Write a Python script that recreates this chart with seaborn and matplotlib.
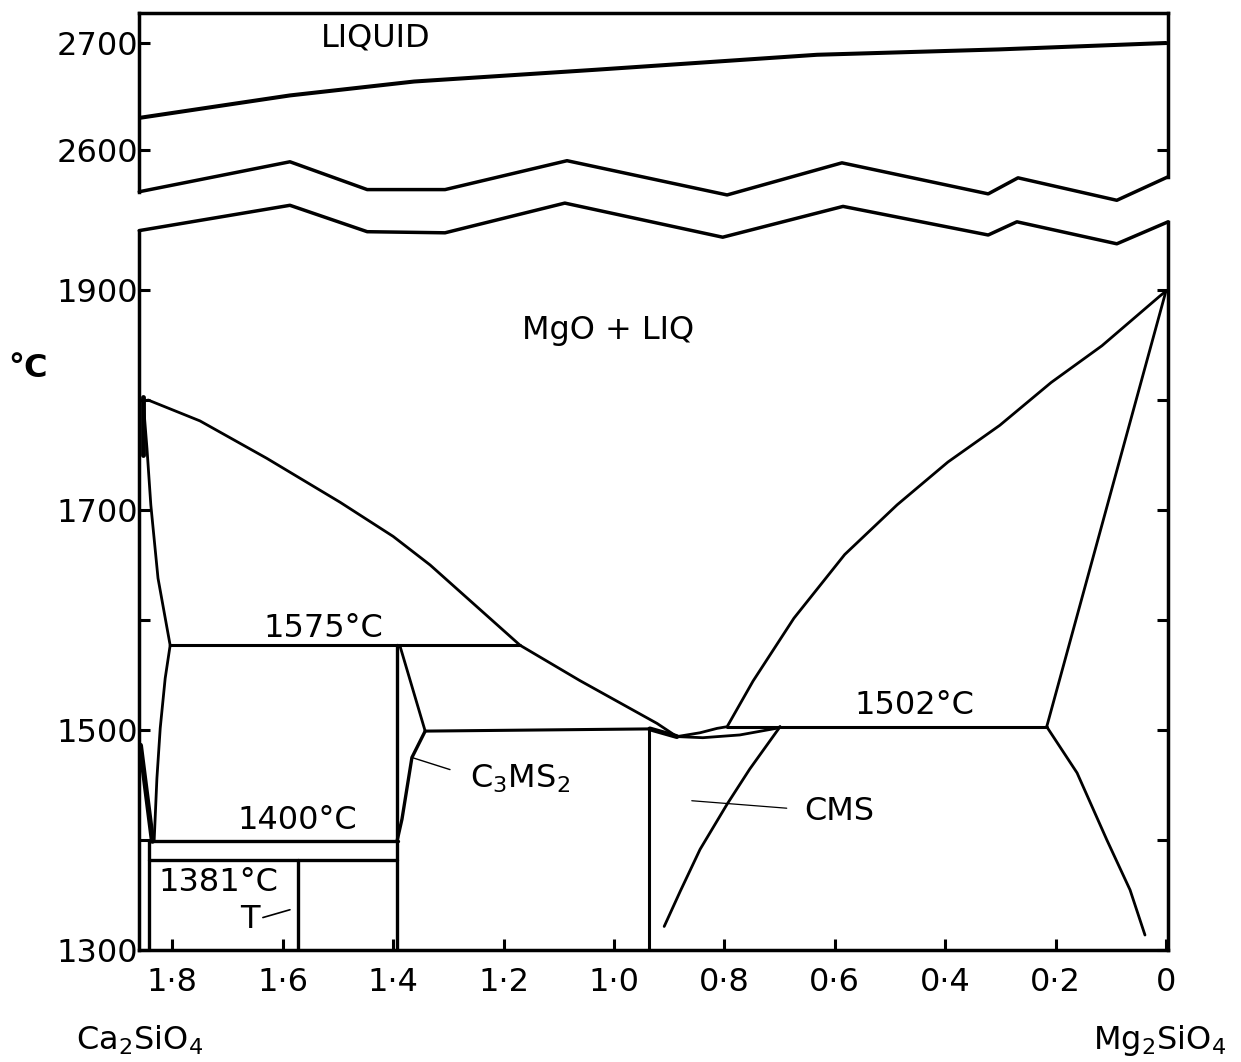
import numpy as np
import pandas as pd
import matplotlib
matplotlib.use("Agg")
import matplotlib.pyplot as plt
import seaborn as sns

sns.set_style("white")
plt.rcParams['font.family'] = ['DejaVu Sans']
plt.rcParams['mathtext.fontset'] = 'dejavusans'
plt.rcParams['text.color'] = 'black'
plt.rcParams['xtick.color'] = 'black'
plt.rcParams['ytick.color'] = 'black'

# ---------------- axis ticks ----------------
x_ticks = [1.8, 1.6, 1.4, 1.2, 1.0, 0.8, 0.6, 0.4, 0.2, 0.0]
x_tick_labels = ['1·8', '1·6', '1·4', '1·2', '1·0', '0·8', '0·6', '0·4', '0·2', '0']
low_ticks = [1300, 1400, 1500, 1600, 1700, 1800, 1900]
low_tick_labels = ['1300', '', '1500', '', '1700', '', '1900']
up_ticks = [2600, 2700]
up_tick_labels = ['2600', '2700']

# ---------------- upper panel (liquidus of MgO) ----------------
liq_x = [1.86, 1.587, 1.362, 1.033, 0.632, 0.303, 0.0]
liq_T = [2630, 2651, 2664, 2675, 2689, 2694, 2700]
brk_up_x = [1.86, 1.587, 1.447, 1.306, 1.085, 0.795, 0.587, 0.322, 0.268, 0.089, -0.004]
brk_up_T = [2561, 2589, 2563, 2563, 2590, 2558, 2588, 2559, 2574, 2553, 2575]

# ---------------- lower panel ----------------
brk_lo_x = [1.86, 1.587, 1.447, 1.306, 1.089, 0.803, 0.585, 0.322, 0.270, 0.089, -0.004]
brk_lo_T = [1954, 1977, 1953, 1952, 1979, 1948, 1976, 1950, 1962, 1942, 1962]

left_liq_x = [1.844, 1.750, 1.629, 1.496, 1.400, 1.333, 1.170, 1.062, 0.922, 0.886]
left_liq_T = [1800, 1781, 1747, 1707, 1676, 1650, 1577, 1545, 1506, 1494]

right_liq_x = [0.886, 0.844, 0.813, 0.795, 0.748, 0.674, 0.582, 0.487, 0.395, 0.301, 0.208, 0.116, 0.011, 0.0]
right_liq_T = [1494, 1497.5, 1501.5, 1503, 1544.5, 1601.6, 1659.5, 1704.7, 1743.6, 1777, 1815.9, 1849.3, 1894.5, 1899]

m2s_sol_x = [0.0, 0.216]
m2s_sol_T = [1899, 1503]

iso1502_x = [0.795, 0.216]
iso1502_T = [1503, 1503]

lens_x = [0.886, 0.839, 0.772, 0.705, 0.699]
lens_T = [1494, 1493, 1495.5, 1501.6, 1503]

cms_left_x = [0.699, 0.754, 0.795, 0.844, 0.880, 0.909]
cms_left_T = [1503, 1464.5, 1432.6, 1391.5, 1353.3, 1321.4]

cms_right_x = [0.216, 0.161, 0.107, 0.065, 0.038]
cms_right_T = [1503, 1461, 1400, 1354.6, 1313.6]

vert094_x = [0.937, 0.937]
vert094_T = [1300, 1501]

iso1500_x = [1.342, 0.935]
iso1500_T = [1499, 1501]
eut_x = [0.935, 0.886]
eut_T = [1501, 1494]

c3ms2_vert_x = [1.393, 1.393]
c3ms2_vert_T = [1300, 1577]
c3ms2_up_x = [1.388, 1.342]
c3ms2_up_T = [1577, 1499]
c3ms2_lo_x = [1.342, 1.366, 1.384, 1.393]
c3ms2_lo_T = [1499, 1475, 1419, 1399]

iso1575_x = [1.804, 1.170]
iso1575_T = [1577, 1577]

c2s_up_x = [1.853, 1.846, 1.839, 1.826, 1.804]
c2s_up_T = [1800, 1756, 1704.5, 1638, 1577]
c2s_lo_x = [1.804, 1.813, 1.822, 1.828, 1.833]
c2s_lo_T = [1577, 1547, 1501.6, 1456, 1399]

wedge_x = [1.858, 1.836]
wedge_T = [1486, 1399]
topleft_x = [1.854, 1.854]
topleft_T = [1803, 1750]

iso1400_x = [1.842, 1.391]
iso1400_T = [1399, 1399]
iso1381_x = [1.842, 1.393]
iso1381_T = [1381.5, 1381.5]
vert184_x = [1.842, 1.842]
vert184_T = [1300, 1399]
vert157_x = [1.572, 1.572]
vert157_T = [1300, 1381.5]

lead_c3ms2_x = [1.366, 1.297]
lead_c3ms2_T = [1475, 1464]
lead_t_x = [1.636, 1.587]
lead_t_T = [1329.5, 1336.6]
lead_cms_x = [0.859, 0.687]
lead_cms_T = [1435.7, 1428.9]

# ---------------- figure ----------------
fig = plt.figure(figsize=(12.41, 10.62), dpi=100)
ax_lo = fig.add_axes([0.1122, 0.10546, 0.8291, 0.71469])
ax_up = fig.add_axes([0.1122, 0.80334, 0.8291, 0.18438])
for a in (ax_lo, ax_up):
    a.set_facecolor('none')


def draw(ax, xs, ts, lw=2.2, **kw):
    df = pd.DataFrame({'x': xs, 'T': ts})
    sns.lineplot(data=df, x='x', y='T', sort=False, estimator=None,
                 color='black', linewidth=lw, ax=ax, legend=False,
                 solid_joinstyle='round', solid_capstyle='round', **kw)


# upper panel
draw(ax_up, liq_x, liq_T, lw=2.9)
draw(ax_up, brk_up_x, brk_up_T, lw=2.5, clip_on=False)

# lower panel
draw(ax_lo, brk_lo_x, brk_lo_T, lw=2.5, clip_on=False)
for xs, ts, lw in [
    (left_liq_x, left_liq_T, 2.0),
    (right_liq_x, right_liq_T, 2.0),
    (m2s_sol_x, m2s_sol_T, 2.0),
    (iso1502_x, iso1502_T, 2.2),
    (lens_x, lens_T, 2.0),
    (cms_left_x, cms_left_T, 2.0),
    (cms_right_x, cms_right_T, 2.0),
    (vert094_x, vert094_T, 2.2),
    (iso1500_x, iso1500_T, 2.2),
    (eut_x, eut_T, 3.5),
    (c3ms2_vert_x, c3ms2_vert_T, 2.4),
    (c3ms2_up_x, c3ms2_up_T, 2.0),
    (c3ms2_lo_x, c3ms2_lo_T, 2.4),
    (iso1575_x, iso1575_T, 2.2),
    (c2s_up_x, c2s_up_T, 2.0),
    (c2s_lo_x, c2s_lo_T, 2.0),
    (wedge_x, wedge_T, 3.8),
    (topleft_x, topleft_T, 3.5),
    (iso1400_x, iso1400_T, 2.4),
    (iso1381_x, iso1381_T, 2.4),
    (vert184_x, vert184_T, 2.4),
    (vert157_x, vert157_T, 2.4),
    (lead_c3ms2_x, lead_c3ms2_T, 1.0),
    (lead_t_x, lead_t_T, 1.2),
    (lead_cms_x, lead_cms_T, 0.9),
]:
    draw(ax_lo, xs, ts, lw=lw)

# limits
ax_lo.set_xlim(1.86, -0.004)
ax_up.set_xlim(1.86, -0.004)
ax_lo.set_ylim(1300, 1990)
ax_up.set_ylim(2545, 2728)

# spines
for a in (ax_lo, ax_up):
    for s in a.spines.values():
        s.set_linewidth(2.5)
        s.set_color('black')
ax_lo.spines['top'].set_visible(False)
ax_lo.spines['left'].set_bounds(1300, brk_lo_T[0])
ax_lo.spines['right'].set_bounds(1300, brk_lo_T[-1])
ax_up.spines['bottom'].set_visible(False)
ax_up.spines['left'].set_bounds(brk_up_T[0], 2728)
ax_up.spines['right'].set_bounds(brk_up_T[-1], 2728)

# ticks
tick_font = dict(fontsize=23, color='black')
ax_lo.set_xticks(x_ticks)
ax_lo.set_xticklabels(x_tick_labels, **tick_font)
ax_lo.set_yticks(low_ticks)
ax_lo.set_yticklabels(low_tick_labels, **tick_font)
ax_lo.tick_params(axis='both', direction='in', length=8, width=2.2, colors='black')
ax_lo.tick_params(axis='y', left=True, right=True, labelright=False, pad=1)
ax_lo.tick_params(axis='x', bottom=True, top=False, pad=12)

ax_up.set_xticks([])
ax_up.set_yticks(up_ticks)
ax_up.set_yticklabels(up_tick_labels, **tick_font)
ax_up.tick_params(axis='y', direction='in', length=8, width=2.2, left=True, right=True,
                  labelright=False, pad=1, colors='black')

for a in (ax_lo, ax_up):
    a.set_xlabel('')
    a.set_ylabel('')
    a.grid(False)

# region labels
lab = dict(fontsize=23, color='black', ha='center', va='center')
ax_up.text(1.431, 2705, 'LIQUID', **lab)
ax_lo.text(1.011, 1863, 'MgO + LIQ', **lab)
ax_lo.text(1.527, 1592, '1575°C', **lab)
ax_lo.text(1.574, 1418, '1400°C', **lab)
ax_lo.text(1.717, 1361, '1381°C', **lab)
ax_lo.text(1.659, 1328, 'T', **lab)
ax_lo.text(1.170, 1456, 'C$_3$MS$_2$', **lab)
ax_lo.text(0.591, 1426, 'CMS', **lab)
ax_lo.text(0.455, 1522, '1502°C', **lab)

fig.text(28 / 1241, 1 - 368 / 1062, '°C', fontsize=23, fontweight='bold', color='black',
         ha='center', va='center')
fig.text(140 / 1241, 1 - 1040 / 1062, 'Ca$_2$SiO$_4$', fontsize=23, color='black',
         ha='center', va='center')
fig.text(1160 / 1241, 1 - 1040 / 1062, 'Mg$_2$SiO$_4$', fontsize=23, color='black',
         ha='center', va='center')

fig.savefig('out.png', dpi=100, facecolor='white')
